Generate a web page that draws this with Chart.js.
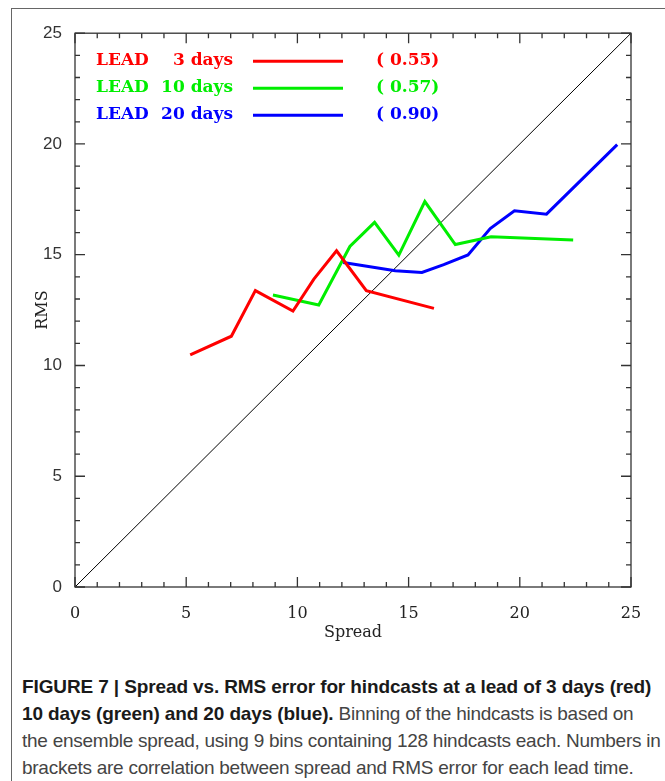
<!DOCTYPE html>
<html><head><meta charset="utf-8">
<script src="https://cdn.jsdelivr.net/npm/chart.js@4/dist/chart.umd.min.js"></script>
<style>
html,body{margin:0;padding:0;background:#fff;}
body{width:665px;height:781px;overflow:hidden;position:relative;}
#frame{position:absolute;left:11px;top:8px;width:660px;height:780px;border-left:1.5px solid #666;border-top:1.5px solid #666;}
#wrap{position:absolute;left:12px;top:10px;width:653px;height:645px;}
#cap{position:absolute;left:22px;top:673px;width:643px;white-space:nowrap;font-family:"Liberation Sans",Arial,sans-serif;font-size:19px;line-height:27px;color:#444;letter-spacing:-0.26px;}
#cap b{color:#1a1a1a;letter-spacing:-0.12px;}
</style></head>
<body>
<div id="frame"></div>
<div id="wrap"><canvas id="c" width="653" height="645"></canvas></div>
<div id="cap"><b>FIGURE 7 | Spread vs. RMS error for hindcasts at a lead of 3 days (red)<br>10 days (green) and 20 days (blue).</b> Binning of the hindcasts is based on<br>the ensemble spread, using 9 bins containing 128 hindcasts each. Numbers in<br>brackets are correlation between spread and RMS error for each lead time.</div>
<script>
// ---- data ----
const spread3  = [5.18, 7.03, 8.11, 9.80, 10.74, 11.76, 13.10, 16.14];
const rms3     = [10.48, 11.32, 13.38, 12.46, 13.90, 15.18, 13.38, 12.58];
const spread10 = [8.90, 10.96, 12.36, 13.47, 14.56, 15.73, 17.10, 18.71, 22.40];
const rms10    = [13.18, 12.73, 15.37, 16.46, 14.98, 17.40, 15.46, 15.81, 15.66];
const spread20 = [12.06, 14.40, 15.60, 16.58, 17.67, 18.67, 19.76, 21.20, 24.38];
const rms20    = [14.65, 14.28, 14.20, 14.55, 14.99, 16.18, 16.98, 16.83, 19.97];
const diagSpread = [0, 25];
const diagRms    = [0, 25];
const leadDays     = ['3', '10', '20'];
const correlations = ['0.55', '0.57', '0.90'];
const seriesColors = ['#ff0000', '#00ee00', '#0000ff'];
const axisMin = 0, axisMax = 25, majorStep = 5, minorStep = 1;

const pts = (xs, ys) => xs.map((v, i) => ({x: v, y: ys[i]}));

const frameTicks = {
  id: 'frameTicks',
  afterDatasetsDraw(chart) {
    const {ctx, chartArea: a, scales: {x, y}} = chart;
    ctx.save();
    ctx.strokeStyle = '#333';
    ctx.lineWidth = 1.3;
    ctx.strokeRect(a.left, a.top, a.right - a.left, a.bottom - a.top);
    ctx.beginPath();
    for (let v = axisMin; v <= axisMax; v += minorStep) {
      const len = (v % majorStep === 0) ? 10 : 5;
      const px = x.getPixelForValue(v), py = y.getPixelForValue(v);
      ctx.moveTo(px, a.bottom); ctx.lineTo(px, a.bottom - len);
      ctx.moveTo(px, a.top); ctx.lineTo(px, a.top + len);
      ctx.moveTo(a.left, py); ctx.lineTo(a.left + len, py);
      ctx.moveTo(a.right, py); ctx.lineTo(a.right - len, py);
    }
    ctx.stroke();
    ctx.restore();
  }
};

const legendBox = {
  id: 'legendBox',
  afterDraw(chart) {
    const {ctx, chartArea: a} = chart;
    ctx.save();
    ctx.font = 'bold 17px "DejaVu Serif"';
    ctx.textBaseline = 'middle';
    leadDays.forEach((d, i) => {
      const yy = a.top + 27 + i * 27;
      ctx.fillStyle = seriesColors[i];
      ctx.strokeStyle = seriesColors[i];
      ctx.textAlign = 'left';
      ctx.fillText('LEAD', a.left + 21, yy);
      ctx.textAlign = 'right';
      ctx.fillText(d + ' days', a.left + 158, yy);
      ctx.textAlign = 'left';
      ctx.fillText('( ' + correlations[i] + ')', a.left + 301, yy);
      ctx.lineWidth = 3;
      ctx.beginPath();
      ctx.moveTo(a.left + 178, yy + 1); ctx.lineTo(a.left + 268, yy + 1);
      ctx.stroke();
    });
    ctx.restore();
  }
};

const ds = (data, color, w) => ({data, borderColor: color, backgroundColor: color, borderWidth: w, pointRadius: 0, tension: 0, fill: false});

new Chart(document.getElementById('c'), {
  type: 'line',
  data: {
    datasets: [
      ds(pts(spread3, rms3), seriesColors[0], 3),
      ds(pts(spread10, rms10), seriesColors[1], 3),
      ds(pts(spread20, rms20), seriesColors[2], 3),
      ds(pts(diagSpread, diagRms), '#000', 1)
    ]
  },
  options: {
    responsive: false,
    animation: false,
    devicePixelRatio: 1,
    layout: {padding: {left: 0, top: 23, right: 34, bottom: 0}},
    plugins: {legend: {display: false}, tooltip: {enabled: false}},
    scales: {
      x: {
        type: 'linear', min: axisMin, max: axisMax,
        grid: {display: false, drawTicks: false},
        border: {display: false},
        ticks: {stepSize: majorStep, padding: 17, color: '#222', font: {family: '"DejaVu Serif"', size: 16}},
        title: {display: true, text: 'Spread', color: '#222', font: {family: '"DejaVu Serif"', size: 16}, padding: {top: 0, bottom: 13}},
        afterFit(s) { s.height = 68; }
      },
      y: {
        type: 'linear', min: axisMin, max: axisMax,
        grid: {display: false, drawTicks: false},
        border: {display: false},
        ticks: {stepSize: majorStep, padding: 13, color: '#333', font: {family: '"Liberation Sans"', size: 17}},
        title: {display: true, text: 'RMS', color: '#222', font: {family: '"DejaVu Serif"', size: 16}, padding: {top: 21, bottom: 0}},
        afterFit(s) { s.width = 63; }
      }
    }
  },
  plugins: [frameTicks, legendBox]
});
</script>
</body></html>
